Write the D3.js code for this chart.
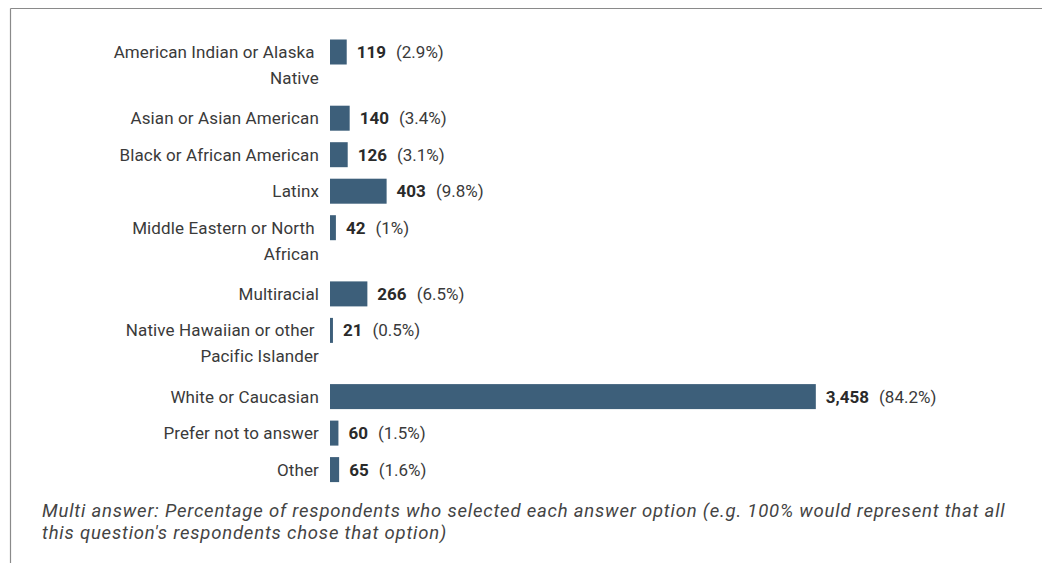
<!DOCTYPE html>
<html>
<head>
<meta charset="utf-8">
<script src="https://cdn.jsdelivr.net/npm/d3@7"></script>
<style>
  html, body { margin: 0; padding: 0; background: #fff; }
  svg { display: block; font-family: Roboto, "Noto Sans", sans-serif; }
</style>
</head>
<body>
<svg id="chart" width="1042" height="563"></svg>
<script>
// Responses to the race / ethnicity question (multi answer)
const categories = [
  "American Indian or Alaska Native",
  "Asian or Asian American",
  "Black or African American",
  "Latinx",
  "Middle Eastern or North African",
  "Multiracial",
  "Native Hawaiian or other Pacific Islander",
  "White or Caucasian",
  "Prefer not to answer",
  "Other"
];
const counts = [119, 140, 126, 403, 42, 266, 21, 3458, 60, 65];
const percents = ["2.9%", "3.4%", "3.1%", "9.8%", "1%", "6.5%", "0.5%", "84.2%", "1.5%", "1.6%"];
const totalRespondents = 4107;
const footnoteLines = [
  "Multi answer: Percentage of respondents who selected each answer option (e.g. 100% would represent that all",
  "this question's respondents chose that option)"
];

const svg = d3.select("#chart");
const barColor = "#3d5f7a";
const textColor = "#3a3a3a";

// frame lines
svg.append("line").attr("x1", 10.5).attr("x2", 1042).attr("y1", 8.5).attr("y2", 8.5)
  .attr("stroke", "#8a8a8a").attr("stroke-width", 1.2);
svg.append("line").attr("x1", 10.5).attr("x2", 10.5).attr("y1", 8.5).attr("y2", 563)
  .attr("stroke", "#8a8a8a").attr("stroke-width", 1.2);

const x = d3.scaleLinear().domain([0, totalRespondents]).range([330, 907]);
const labelRight = 319;
const wrapWidth = 220;
const labelSize = 17;
const labelSpacing = 0.12;
const lineHeight = 26;
const barHeight = 25;
const rowGap = 11.5;
const extraLineStep = 29.7;

// measure and wrap labels
const measure = svg.append("text")
  .attr("font-size", labelSize)
  .attr("letter-spacing", labelSpacing)
  .attr("visibility", "hidden");
function wrap(str) {
  const words = str.split(" ");
  const lines = [];
  let cur = "";
  for (const w of words) {
    const test = cur ? cur + " " + w : w;
    measure.text(test);
    if (cur && measure.node().getComputedTextLength() > wrapWidth) {
      lines.push(cur);
      cur = w;
    } else cur = test;
  }
  lines.push(cur);
  return lines;
}
const wrapped = categories.map(wrap);
measure.remove();

// vertical layout: rows grow with the number of label lines
let cy = 52;
const centers = [];
wrapped.forEach(lines => {
  centers.push(cy);
  cy += barHeight + rowGap + (lines.length - 1) * extraLineStep;
});

const rows = svg.append("g").selectAll("g").data(categories).join("g");

rows.append("rect")
  .attr("x", x(0))
  .attr("y", (d, i) => centers[i] - barHeight / 2)
  .attr("width", (d, i) => x(counts[i]) - x(0))
  .attr("height", barHeight)
  .attr("fill", barColor);

rows.append("text")
  .attr("font-size", labelSize)
  .attr("letter-spacing", labelSpacing)
  .attr("fill", textColor)
  .attr("text-anchor", "end")
  .style("white-space", "pre")
  .attr("y", (d, i) => centers[i] + 6)
  .each(function(d, i) {
    const lines = wrapped[i];
    d3.select(this).selectAll("tspan").data(lines).join("tspan")
      .attr("x", labelRight)
      .attr("dy", (l, j) => j === 0 ? 0 : lineHeight)
      .text((l, j) => j < lines.length - 1 ? l + " " : l);
  });

const values = rows.append("text")
  .attr("font-size", 17)
  .attr("fill", textColor)
  .attr("x", (d, i) => x(counts[i]) + 10)
  .attr("y", (d, i) => centers[i] + 6);
values.append("tspan")
  .attr("font-weight", "bold")
  .attr("fill", "#2a2a2a")
  .text((d, i) => d3.format(",")(counts[i]));
values.append("tspan")
  .attr("dx", 10)
  .text((d, i) => "(" + percents[i] + ")");

// footnote
svg.append("text")
  .attr("font-size", 18.5)
  .attr("letter-spacing", 0.8)
  .attr("font-style", "italic")
  .attr("fill", "#444")
  .selectAll("tspan").data(footnoteLines).join("tspan")
  .attr("x", 42)
  .attr("y", (d, i) => 517 + i * 22)
  .text(d => d);
</script>
</body>
</html>
